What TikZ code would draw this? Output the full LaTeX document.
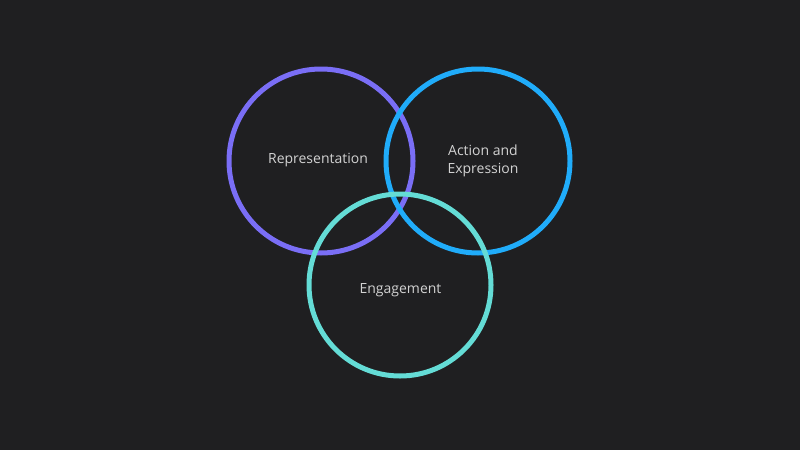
\documentclass[tikz,border=0pt]{standalone}
\usepackage{fontspec}
\setmainfont{Open Sans}
\definecolor{bg}{RGB}{31,31,33}
\definecolor{cpurple}{RGB}{122,110,246}
\definecolor{cblue}{RGB}{32,172,250}
\definecolor{cteal}{RGB}{100,220,214}
\definecolor{ctext}{RGB}{210,210,210}
\begin{document}
\begin{tikzpicture}[x=1pt,y=-1pt,
  ring/.style={draw=#1,line width=5pt},
  lbl/.style={text=ctext,font=\fontsize{14}{18}\selectfont,align=center,inner sep=0pt}]
\fill[bg] (0,0) rectangle (800,450);
\useasboundingbox (0,0) rectangle (800,450);
\draw[ring=cpurple] (321,161) circle[radius=92];
\draw[ring=cblue] (478,161) circle[radius=92];
\draw[ring=cteal] (400,285) circle[radius=91];
\node[lbl] (rep) at (318,160) {Representation};
\node[lbl] (act) at (483,161) {Action and\\Expression};
\node[lbl] (eng) at (400.5,290) {Engagement};
\end{tikzpicture}
\end{document}
